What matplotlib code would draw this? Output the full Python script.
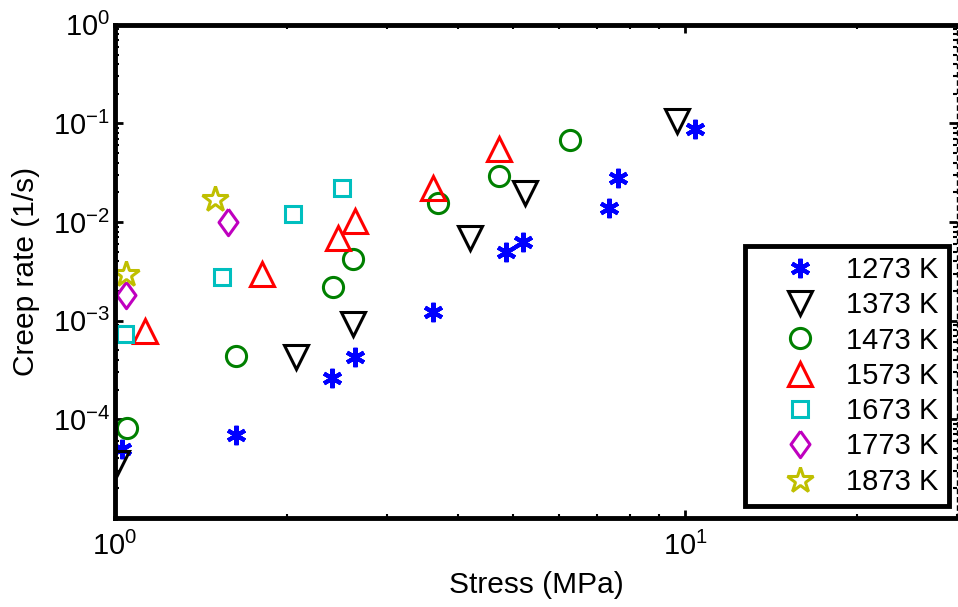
import matplotlib
matplotlib.use("Agg")
from matplotlib import pyplot as plt
from matplotlib.ticker import FixedLocator

plt.rcParams['font.family'] = ['Liberation Sans', 'DejaVu Sans']
plt.rcParams['mathtext.fontset'] = 'custom'
plt.rcParams['mathtext.rm'] = 'Liberation Sans'
plt.rcParams['mathtext.it'] = 'Liberation Sans:italic'

# stress (MPa) and creep rate (1/s) for each temperature
x_1273 = [1.03, 1.63, 2.40, 2.64, 3.62, 4.85, 5.19, 7.37, 7.64, 10.4]
y_1273 = [5.0e-5, 6.9e-5, 2.6e-4, 4.3e-4, 1.22e-3, 5.0e-3, 6.3e-3, 1.39e-2, 2.8e-2, 8.8e-2]
x_1373 = [1.01, 2.08, 2.62, 4.20, 5.24, 9.68]
y_1373 = [3.6e-5, 4.3e-4, 9.2e-4, 6.9e-3, 1.97e-2, 0.106]
x_1473 = [1.05, 1.63, 2.41, 2.62, 3.69, 4.72, 6.28]
y_1473 = [8.1e-5, 4.4e-4, 2.2e-3, 4.2e-3, 1.56e-2, 2.9e-2, 6.8e-2]
x_1573 = [1.13, 1.81, 2.46, 2.64, 3.62, 4.72]
y_1573 = [7.8e-4, 2.97e-3, 6.9e-3, 1.02e-2, 2.2e-2, 5.5e-2]
x_1673 = [1.04, 1.54, 2.05, 2.50]
y_1673 = [7.3e-4, 2.8e-3, 1.2e-2, 2.2e-2]
x_1773 = [1.045, 1.58]
y_1773 = [1.8e-3, 1.0e-2]
x_1873 = [1.045, 1.50]
y_1873 = [3.0e-3, 1.7e-2]

labels = ['1273 K', '1373 K', '1473 K', '1573 K', '1673 K', '1773 K', '1873 K']
yticks = [1e-4, 1e-3, 1e-2, 1e-1, 1]

# MATLAB-like diamond, taller than wide
diamond = [(0, 1), (0.72, 0), (0, -1), (-0.72, 0), (0, 1)]

fig = plt.figure(figsize=(9.58, 6.07), dpi=100)
ax = fig.add_axes([0.120, 0.147, 0.879, 0.812])

ax.plot(x_1273, y_1273, ls='none', marker=(6, 2, 0), ms=14, mew=3, color=(0, 0, 1), label=labels[0])
ax.plot(x_1373, y_1373, ls='none', marker='v', ms=17, mew=2.2, mfc='none', color='k', label=labels[1])
ax.plot(x_1473, y_1473, ls='none', marker='o', ms=14.5, mew=2.2, mfc='none', color=(0, 0.5, 0), label=labels[2])
ax.plot(x_1573, y_1573, ls='none', marker='^', ms=17, mew=2.2, mfc='none', color=(1, 0, 0), label=labels[3])
ax.plot(x_1673, y_1673, ls='none', marker='s', ms=11.5, mew=2.2, mfc='none', color=(0, 0.75, 0.75), label=labels[4])
ax.plot(x_1773, y_1773, ls='none', marker=diamond, ms=19, mew=2.2, mfc='none', color=(0.75, 0, 0.75), label=labels[5])
ax.plot(x_1873, y_1873, ls='none', marker='*', ms=19, mew=2.2, mfc='none', color=(0.75, 0.75, 0), label=labels[6])

ax.set_xscale('log')
ax.set_yscale('log')
ax.set_xlim(1, 30)
ax.set_ylim(1e-5, 1)
ax.yaxis.set_major_locator(FixedLocator(yticks))

for side in ['left', 'bottom', 'top']:
    ax.spines[side].set_linewidth(3.5)
ax.spines['right'].set_linewidth(1)
ax.spines['right'].set_linestyle((0, (3, 3)))

ax.tick_params(which='both', direction='in', top=True, right=True, labelsize=21)
ax.tick_params(which='major', length=6, width=2)
ax.tick_params(which='minor', length=3, width=1.5)
ax.tick_params(axis='x', pad=10)

ax.set_xlabel('Stress (MPa)', fontsize=21.5, labelpad=7)
ax.set_ylabel('Creep rate (1/s)', fontsize=21.5, labelpad=9)

leg = ax.legend(loc='lower right', bbox_to_anchor=(0.99, 0.024), borderaxespad=0,
                fontsize=21, fancybox=False, edgecolor='k', framealpha=1,
                handlelength=3.05, handletextpad=0.05, labelspacing=0.25, borderpad=0.35)
leg.get_frame().set_linewidth(3.5)

fig.savefig('out.png', dpi=100)
